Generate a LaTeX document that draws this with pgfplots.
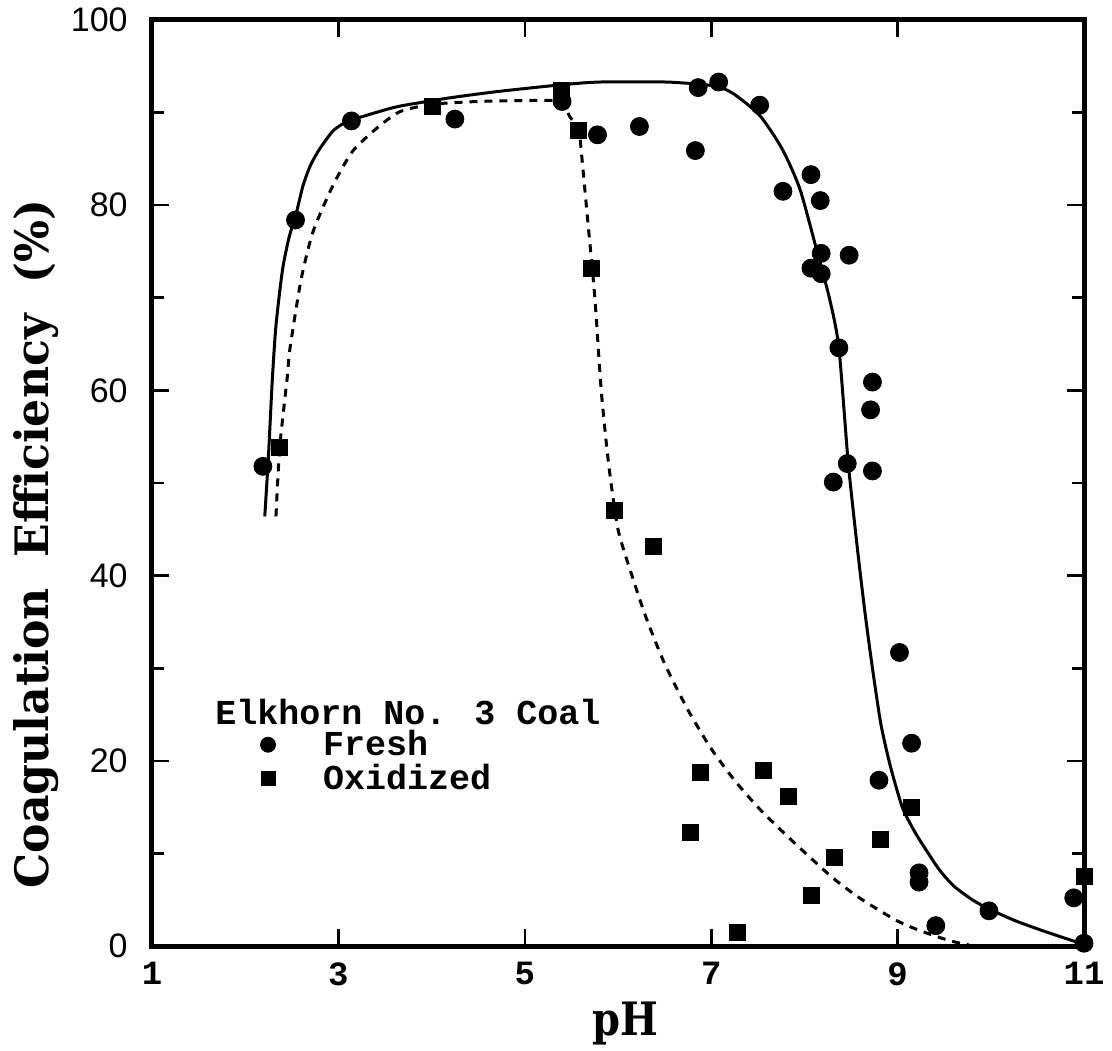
\documentclass[border=0pt]{standalone}
\usepackage{fontspec}
\usepackage{graphicx}
\usepackage{pgfplots}
\pgfplotsset{compat=1.18}
\setmainfont{Liberation Serif}
\newfontfamily\monofont{Liberation Mono}
\newfontfamily\sansfont{Liberation Sans}
\newfontfamily\labfont{DejaVu Serif}
\begin{document}
\begin{tikzpicture}
\begin{axis}[
  scale only axis, width=466pt, height=463pt,
  xmin=1, xmax=11, ymin=0, ymax=100,
  xtick={1,3,5,7,9,11}, ytick={0,20,40,60,80,100},
  minor ytick={10,30,50,70,90},
  tick align=inside, major tick length=8.5pt, minor tick length=6pt,
  axis line style={line width=2.5pt},
  every tick/.style={line width=1.3pt, black},
  /pgf/number format/assume math mode=true,
  xticklabel style={font=\fontsize{17}{17}\selectfont\monofont\bfseries, inner sep=0pt, yshift=-8pt},
  yticklabel style={font=\fontsize{17}{17}\selectfont\sansfont, inner sep=0pt, xshift=-12pt},
  xlabel={\scalebox{0.87}[1]{pH}},
  ylabel={\scalebox{0.96}[1]{Coagulation\ \ Efficiency\ \ (\%)}},
  every axis x label/.style={at={(axis description cs:0.5075,0)}, anchor=base, yshift=-44.5pt, font=\fontsize{23}{23}\selectfont\labfont\bfseries},
  every axis y label/.style={at={(axis description cs:-0.1245,0.434)}, rotate=90, anchor=center, font=\fontsize{23}{23}\selectfont\labfont\bfseries},
  legend style={draw=none, fill=none, at={(axis cs:2.16,19.9)}, anchor=west, inner sep=0pt,
    row sep=2.8pt, column sep=23.75pt, font=\fontsize{17.5}{17.5}\selectfont\monofont\bfseries,
    nodes={inner sep=0pt}},
  legend cell align=left,
]
% fitted curve, fresh
\addplot[black, line width=1.5pt, smooth, tension=0.4, forget plot] coordinates {
(2.21,46.4)(2.25,53)(2.29,61)(2.33,67)(2.40,73)(2.47,76.5)(2.54,78.8)(2.62,82.1)
(2.70,84.3)(2.80,86.1)(2.94,88.0)(3.05,88.8)(3.14,89.2)(3.4,90.0)(3.66,90.7)(4.2,91.6)(4.73,92.3)
(5.39,93.0)(5.80,93.3)(6.52,93.3)(7.02,92.9)(7.23,92.1)(7.52,89.7)(7.76,86.1)
(7.95,81.8)(8.12,75.6)(8.27,69.9)(8.37,64.6)(8.47,52.2)(8.57,42.8)(8.65,36)
(8.73,30)(8.82,24)(8.92,19.5)(9.05,15)(9.18,12.4)(9.31,10.3)(9.45,8.2)(9.6,6.5)
(9.8,5.0)(9.98,4.0)(10.27,2.7)(10.6,1.5)(10.9,0.5)(11,0.2)};
% fitted curve, oxidized
\addplot[black, line width=1.5pt, dash pattern=on 4pt off 3.5pt, smooth, tension=0.4, forget plot] coordinates {
(2.33,46.4)(2.37,53.8)(2.45,61.3)(2.48,64.5)(2.60,72)(2.73,77.2)(2.94,82.1)
(3.15,85.8)(3.41,88.3)(3.66,90.1)(4.01,90.9)(4.5,91.2)(5.0,91.3)(5.38,91.2)
(5.48,89.6)(5.58,88.0)(5.62,84.3)(5.67,78.9)(5.75,70.2)(5.82,60)(5.90,52)
(6.0,45)(6.15,40)(6.3,35.5)(6.5,30.5)(6.75,25.5)(7.0,21.3)(7.25,17.9)(7.5,15.0)
(7.75,12.5)(7.95,10.6)(8.30,7.4)(8.59,5.2)(8.98,2.8)(9.23,1.7)(9.55,0.6)(9.77,0.1)};
% fresh data
\addplot[only marks, mark=*, mark size=4.5pt, black, forget plot] coordinates {
(2.19,51.8)(2.54,78.4)(3.14,89.1)(4.25,89.3)(5.40,91.2)(5.78,87.6)(6.23,88.5)
(6.86,92.7)(7.08,93.3)(7.52,90.8)(6.83,85.9)(7.77,81.5)(8.07,83.3)(8.17,80.5)
(8.18,74.8)(8.48,74.6)(8.07,73.2)(8.18,72.6)(8.37,64.6)(8.73,60.9)(8.71,57.9)
(8.46,52.1)(8.73,51.3)(8.31,50.1)(9.02,31.7)(9.15,21.9)(8.80,17.9)(9.23,7.9)
(9.23,6.9)(9.41,2.2)(9.98,3.8)(10.89,5.2)(11.0,0.3)};
% oxidized data
\addplot[only marks, mark=square*, mark size=4pt, black, forget plot] coordinates {
(2.37,53.8)(4.01,90.7)(5.39,92.4)(5.58,88.1)(5.71,73.2)(5.96,47.0)(6.38,43.2)
(6.78,12.3)(6.88,18.8)(7.56,19.0)(7.83,16.2)(8.08,5.5)(8.32,9.6)(8.81,11.5)
(9.15,15.0)(11.0,7.5)(7.28,1.5)};
\addlegendimage{only marks, mark=*, mark size=3.75pt, black}
\addlegendentry{Fresh}
\addlegendimage{only marks, mark=square*, mark size=3.5pt, black}
\addlegendentry{Oxidized}
\node[anchor=west, inner sep=0pt, font=\fontsize{17.5}{17.5}\selectfont\monofont\bfseries] at (axis cs:1.676,25.3) {Elkhorn No. 3 Coal};
\coordinate (sw) at (rel axis cs:0,0);
\end{axis}
\pgfresetboundingbox
\path (sw) ++(-76pt,-52pt) rectangle ++(556pt,525pt);
\end{tikzpicture}
\end{document}
